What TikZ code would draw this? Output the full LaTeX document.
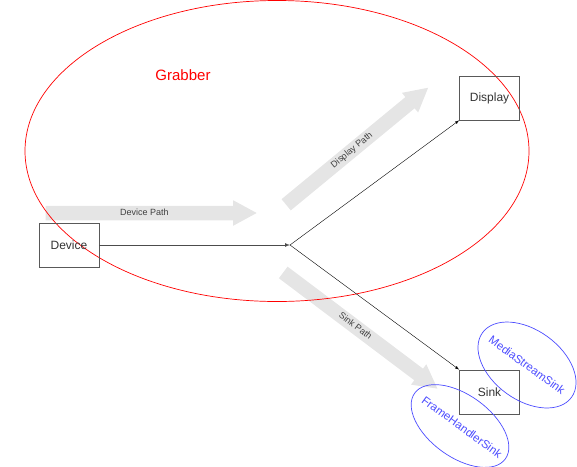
\documentclass[tikz,border=0pt]{standalone}
\usepackage{fontspec}
\setmainfont{Liberation Sans}
\usetikzlibrary{shapes.geometric, shapes.arrows}

\begin{document}
\begin{tikzpicture}[x=1pt, y=-1pt,
  box/.style={draw=black!65, line width=0.8pt, minimum width=60pt, minimum height=44pt, font=\fontsize{12}{14}\selectfont, text=black!80},
  flow/.style={single arrow, fill=black!10, text=black!75, font=\fontsize{9}{10}\selectfont, text height=6.5pt, text depth=2pt, inner ysep=2.8pt, inner xsep=0pt, single arrow head extend=5.5pt, single arrow tip angle=57, single arrow head indent=0pt},
  sinkring/.style={ellipse, draw=blue!70, line width=0.7pt, rotate=-36},
  sinktext/.style={text=blue!70, font=\fontsize{11.5}{13}\selectfont, rotate=-36, inner sep=0pt}]

\useasboundingbox (0,0) rectangle (577,466);

% Path arrows
\node[flow, minimum height=211pt] (devicepath) at (144.5,213) {Device Path};
\node[flow, minimum height=184pt, rotate=39.5] (displaypath) at (352,150.5) {Display Path};
\node[flow, minimum height=193pt, rotate=-37] (sinkpath) at (355,326.5) {Sink Path};

% Grabber region
\node[ellipse, draw=red, line width=0.7pt, minimum width=504pt, minimum height=301pt] (grabber) at (277,151) {};
\node[text=red, font=\fontsize{15}{18}\selectfont] (grabberlabel) at (183,75) {Grabber};

% Boxes
\node[box] (device) at (69,245) {Device};
\node[box] (display) at (489.5,98) {Display};
\node[box] (sink) at (489.5,392) {Sink};

% Sink types
\node[sinkring, minimum width=110pt, minimum height=70pt] (mediastream) at (527,365) {};
\node[sinktext] (mediastreamtext) at (mediastream) {MediaStreamSink};
\node[sinkring, minimum width=112pt, minimum height=62pt] (framehandler) at (460,426) {};
\node[sinktext] (framehandlertext) at (462,427) {FrameHandlerSink};

% Connections
\coordinate (split) at (290,245);
\draw[line width=0.7pt, draw=black!70, -latex] (device) -- (split);
\draw[-latex] (split) -- (display.south west);
\draw[-latex] (split) -- (sink.north west);

\end{tikzpicture}
\end{document}
